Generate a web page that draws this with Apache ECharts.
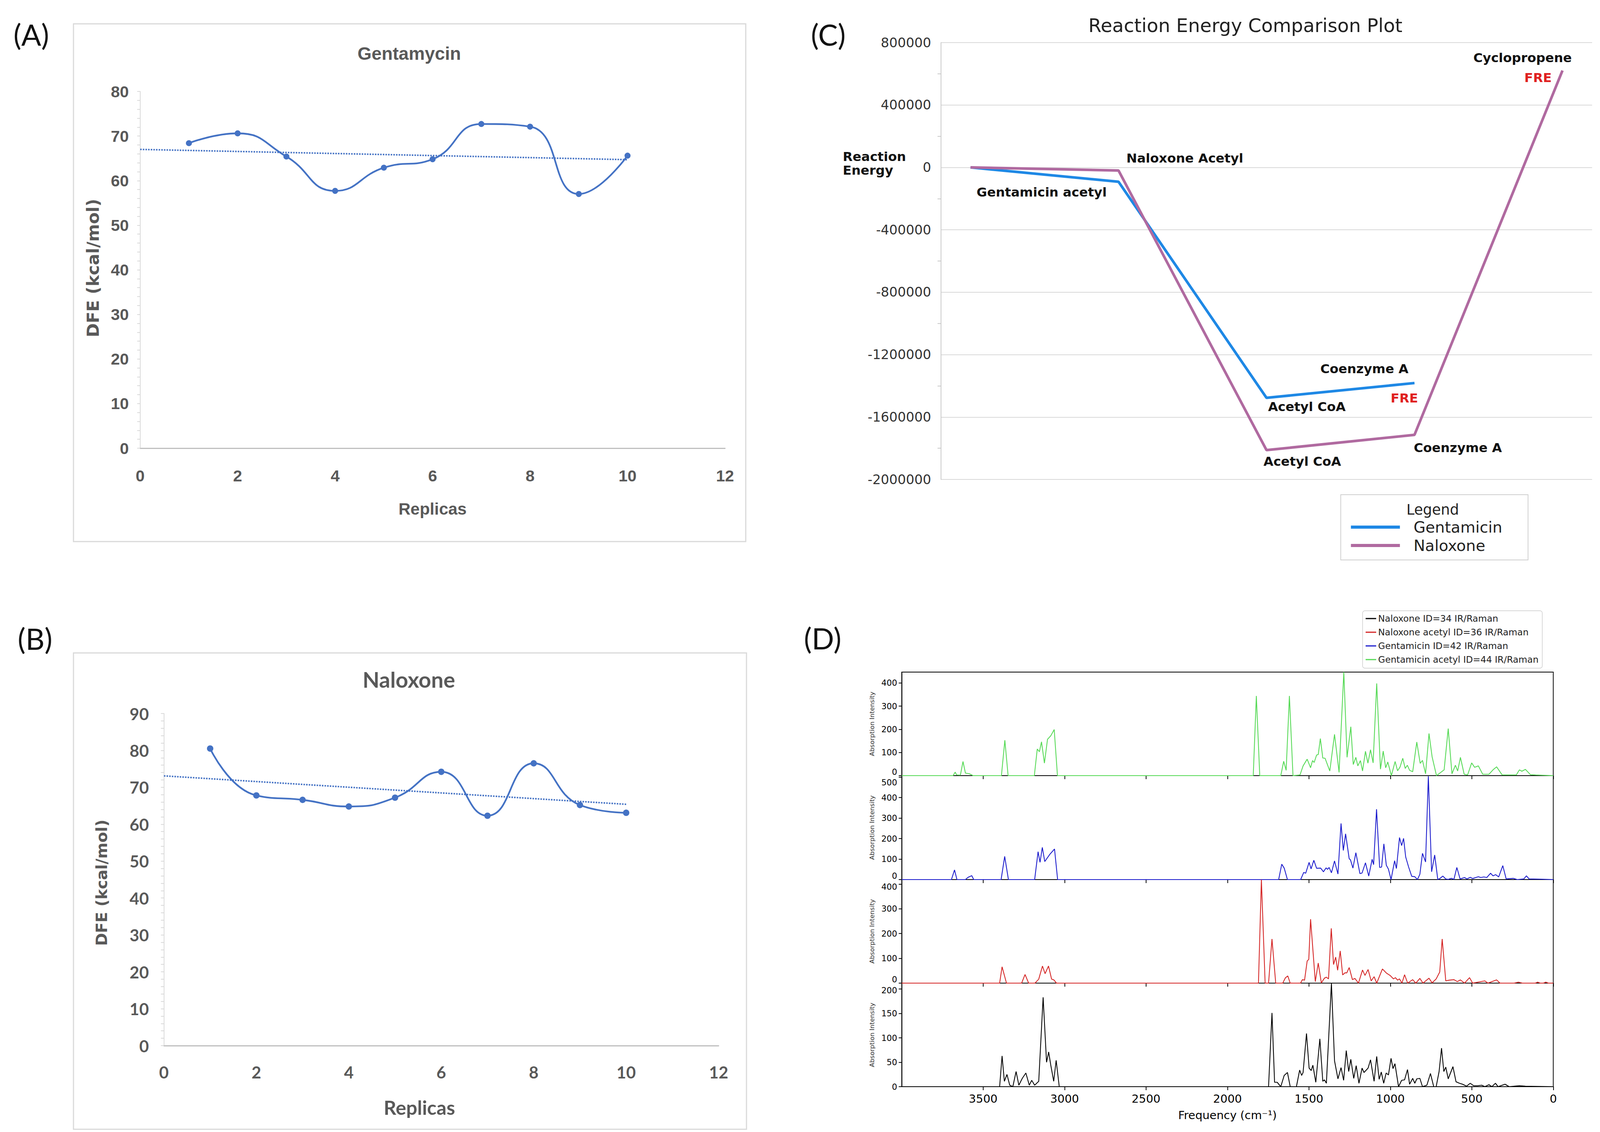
<!DOCTYPE html>
<html><head><meta charset="utf-8">
<script src="https://cdn.jsdelivr.net/npm/echarts@6.0.0/dist/echarts.min.js"></script>
<style>html,body{margin:0;padding:0;background:#fff;overflow:hidden;width:100%;height:100%;}#c{width:100%;height:100%;}</style>
</head><body><div id="c"></div>
<script>
// ---------------- DATA ----------------
const replicas = [1, 2, 3, 4, 5, 6, 7, 8, 9, 10];
const gentamycinDFE = [68.4, 70.6, 65.4, 57.7, 62.9, 64.8, 72.7, 72.1, 57.0, 65.6];
const gentamycinTrend = [[0, 67.0], [10, 64.7]];
const naloxoneDFE = [80.5, 67.8, 66.6, 64.8, 67.2, 74.2, 62.3, 76.5, 65.2, 63.1];
const naloxoneTrend = [[0, 73.1], [10, 65.4]];

const reactionSteps = [0, 1, 2, 3, 4];
const gentamicinEnergy = [0, -92000, -1477000, -1382000];
const naloxoneEnergy = [0, -20000, -1812000, -1714000, 621000];

const specGentamicinAcetyl = [[4000,0],[3685,0],[3672,15],[3663,3],[3640,2],[3624,61],[3609,11],[3585,8],[3562,0],[3388,0],[3367,153],[3347,0],[3186,0],[3168,115],[3155,103],[3142,146],[3124,54],[3105,157],[3085,172],[3064,199],[3044,0],[1842,0],[1823,344],[1802,0],[1673,0],[1655,62],[1640,23],[1620,344],[1598,0],[1555,3],[1536,42],[1511,71],[1490,34],[1478,65],[1468,57],[1453,89],[1443,91],[1430,160],[1415,76],[1401,75],[1372,20],[1343,178],[1315,14],[1286,447],[1266,79],[1243,211],[1228,48],[1212,79],[1200,42],[1184,65],[1171,20],[1153,105],[1138,54],[1122,112],[1106,55],[1084,398],[1061,28],[1044,106],[1029,34],[1016,59],[994,0],[971,61],[956,21],[941,37],[924,75],[909,31],[896,45],[882,23],[863,17],[838,145],[817,53],[803,66],[784,8],[763,182],[744,82],[717,0],[670,25],[645,203],[622,8],[601,45],[587,20],[570,79],[547,6],[526,3],[501,55],[483,36],[460,42],[433,6],[395,6],[370,25],[348,38],[314,3],[227,3],[208,25],[193,19],[171,27],[140,4],[108,3],[0,0]];
const specGentamicin = [[4000,0],[3695,0],[3676,47],[3661,0],[3609,0],[3593,11],[3570,19],[3558,0],[3390,0],[3368,113],[3345,0],[3184,0],[3163,136],[3151,84],[3137,157],[3122,88],[3090,124],[3062,149],[3043,0],[1686,0],[1667,75],[1652,56],[1632,0],[1551,0],[1532,35],[1520,31],[1499,84],[1487,52],[1470,94],[1453,55],[1428,56],[1411,38],[1395,57],[1386,50],[1376,59],[1362,33],[1343,91],[1322,27],[1303,274],[1289,142],[1275,223],[1253,102],[1245,96],[1230,56],[1212,131],[1187,29],[1174,32],[1153,82],[1133,17],[1112,99],[1103,73],[1085,343],[1066,59],[1054,61],[1040,174],[1025,70],[1012,51],[996,0],[974,92],[963,54],[944,205],[931,166],[919,201],[906,110],[888,61],[869,16],[850,14],[834,0],[819,26],[803,128],[784,86],[767,504],[747,38],[728,120],[709,0],[695,6],[678,17],[660,3],[645,1],[626,6],[610,1],[592,59],[572,3],[545,10],[530,3],[510,11],[495,5],[476,10],[460,14],[445,10],[426,13],[408,10],[385,31],[370,18],[354,24],[335,13],[310,68],[289,3],[246,6],[221,0],[181,3],[165,18],[148,3],[71,2],[0,0]];
const specNaloxoneAcetyl = [[4000,0],[3399,0],[3384,66],[3357,0],[3264,0],[3243,35],[3221,0],[3182,0],[3159,16],[3136,69],[3120,38],[3099,69],[3080,16],[3066,13],[3050,0],[1810,0],[1792,418],[1769,0],[1748,0],[1727,178],[1704,0],[1661,0],[1645,21],[1630,29],[1615,0],[1552,0],[1540,14],[1527,12],[1511,89],[1501,96],[1490,258],[1461,6],[1443,81],[1424,1],[1405,20],[1393,24],[1380,17],[1363,221],[1349,75],[1336,105],[1324,52],[1308,130],[1293,33],[1278,42],[1268,41],[1253,63],[1233,14],[1218,19],[1196,0],[1171,53],[1156,31],[1137,55],[1118,9],[1100,26],[1084,0],[1049,57],[1025,41],[1000,30],[981,17],[969,22],[956,12],[944,17],[929,0],[913,34],[894,0],[863,14],[844,0],[819,19],[800,0],[763,20],[744,1],[719,17],[697,45],[682,178],[660,9],[638,12],[610,14],[589,6],[570,13],[545,0],[514,22],[495,0],[420,9],[401,0],[348,13],[327,0],[240,0],[214,4],[190,0],[110,0],[96,4],[80,0],[60,0],[46,4],[30,0],[0,0]];
const specNaloxone = [[4000,0],[3399,0],[3384,63],[3370,11],[3354,25],[3337,3],[3318,0],[3298,31],[3281,3],[3260,17],[3238,28],[3217,3],[3202,13],[3184,3],[3159,11],[3132,183],[3111,50],[3098,71],[3085,44],[3067,11],[3052,54],[3033,0],[1748,0],[1727,151],[1711,9],[1695,9],[1673,0],[1652,23],[1632,29],[1615,0],[1577,0],[1557,34],[1545,23],[1536,29],[1515,109],[1499,38],[1486,33],[1476,44],[1458,9],[1433,98],[1415,11],[1405,14],[1393,7],[1362,212],[1343,53],[1322,16],[1303,39],[1287,13],[1271,74],[1256,31],[1243,56],[1225,17],[1210,43],[1193,7],[1174,38],[1162,29],[1137,38],[1122,55],[1100,11],[1084,62],[1069,15],[1056,30],[1041,7],[1026,28],[1012,24],[996,58],[984,37],[972,47],[950,0],[931,13],[913,14],[895,35],[882,5],[863,17],[850,7],[838,16],[819,17],[803,0],[776,3],[754,27],[734,0],[719,0],[701,31],[686,79],[672,31],[660,40],[645,16],[616,41],[597,10],[576,7],[557,5],[532,1],[510,7],[489,2],[464,2],[439,3],[420,0],[395,4],[377,0],[355,7],[339,0],[296,5],[271,0],[208,2],[171,1],[0,0]];

const spectraNames = ['Gentamicin acetyl ID=44 IR/Raman', 'Gentamicin ID=42 IR/Raman', 'Naloxone acetyl ID=36 IR/Raman', 'Naloxone ID=34 IR/Raman'];
const spectraData = [specGentamicinAcetyl, specGentamicin, specNaloxoneAcetyl, specNaloxone];
const spectraYMax = [447, 507, 418, 212];
const spectraYStep = [100, 100, 100, 50];
const spectraTopTick = [400, 500, 400, 200];

// ---------------- LAYOUT SCALE (design size 4246 x 2897) ----------------
const el = document.getElementById('c');
const W = el.clientWidth || window.innerWidth, H = el.clientHeight || window.innerHeight;
const SX = W / 4246, SY = H / 2897, SF = Math.min(SX, SY);
const px = v => v * SX, py = v => v * SY, fs = v => v * SF;

// ---------------- STYLE ----------------
const FA = "'Liberation Sans',Arial,sans-serif";
const FB = "Lato,'Liberation Sans',sans-serif";
const FDV = "'DejaVu Sans',sans-serif";
const GRAY = '#595959';
const XL_BLUE = '#4472C4';
const specColors = ['#55d955', '#1a1acc', '#d42424', '#000000'];
const cGent = '#1e88e5', cNal = '#b06aa0';
const plain = v => String(v);

const chart = echarts.init(el, null, {renderer: 'svg'});

function dfeAxes(grid, ymax, fontFam, size, yMargin, xMargin) {
  return {
    x: {type: 'value', gridIndex: grid, min: 0, max: 12, interval: 2,
        axisLine: {show: true, onZero: true, lineStyle: {color: '#bfbfbf', width: fs(3)}},
        axisTick: {show: false}, splitLine: {show: false},
        axisLabel: {fontFamily: fontFam, fontSize: fs(size), fontWeight: 'bold', color: GRAY, margin: py(xMargin)}},
    y: {type: 'value', gridIndex: grid, min: 0, max: ymax, interval: 10,
        axisLine: {show: true, onZero: false, lineStyle: {color: '#d9d9d9', width: fs(2)}},
        axisTick: {show: true, length: px(8), lineStyle: {color: '#d9d9d9', width: fs(2)}},
        minorTick: {show: true, splitNumber: 5, length: px(8), lineStyle: {color: '#d9d9d9', width: fs(2)}},
        splitLine: {show: false},
        axisLabel: {fontFamily: fontFam, fontSize: fs(size), fontWeight: 'bold', color: GRAY, margin: px(yMargin)}}
  };
}
const aAx = dfeAxes(0, 80, FA, 43, 30, 50);
const bAx = dfeAxes(1, 90, FB, 44, 40, 46);

const grids = [
  [372, 234, 1552, 913],
  [435, 1826, 1472, 850],
  [2497, 109, 1728, 1118],
  [2393, 1720, 1729, 265],
  [2393, 1985, 1729, 266],
  [2393, 2251, 1729, 265],
  [2393, 2516, 1729, 265]
].map((g, i) => Object.assign({outerBoundsMode: 'none', containLabel: false,
    left: px(g[0]), top: py(g[1]), width: px(g[2]), height: py(g[3])},
  i >= 3 ? {show: true, borderColor: '#000', borderWidth: fs(2), backgroundColor: 'transparent'} : {}));

const xAxes = [aAx.x, bAx.x,
  {type: 'value', gridIndex: 2, min: -0.2, max: 4.2, show: false}];
const yAxes = [aAx.y, bAx.y,
  {type: 'value', gridIndex: 2, min: -2000000, max: 800000, interval: 400000,
   axisLine: {show: true, onZero: false, lineStyle: {color: '#c8c8c8', width: fs(2)}},
   axisTick: {show: false},
   minorTick: {show: true, splitNumber: 2, length: px(9), lineStyle: {color: '#c8c8c8', width: fs(2)}},
   splitLine: {show: true, lineStyle: {color: '#d9d9d9', width: fs(2)}},
   axisLabel: {fontFamily: FDV, fontSize: fs(35), color: '#333', margin: px(26), formatter: plain}}];

// label nudges so that stacked-panel labels at the shared borders do not collide
const downShift = [0, 14, 7, 3];
for (let k = 0; k < 4; k++) {
  const gi = 3 + k, last = k === 3;
  xAxes.push({type: 'value', gridIndex: gi, inverse: true, min: 0, max: 4000, interval: 500,
    axisLine: {show: true, onZero: false, lineStyle: {color: '#000', width: fs(2)}},
    axisTick: {show: true, inside: false, length: py(9), lineStyle: {color: '#000', width: fs(2)}},
    splitLine: {show: false},
    axisLabel: {show: last, showMaxLabel: false, fontFamily: FDV, fontSize: fs(30), color: '#000', margin: py(16), formatter: plain},
    name: last ? 'Frequency (cm\u207B\u00B9)' : '', nameLocation: 'middle', nameGap: py(58),
    nameTextStyle: {fontFamily: FDV, fontSize: fs(30), color: '#000'}});
  yAxes.push({type: 'value', gridIndex: gi, min: 0, max: spectraYMax[k], interval: spectraYStep[k],
    axisLine: {show: true, onZero: false, lineStyle: {color: '#000', width: fs(2)}},
    axisTick: {show: true, length: px(8), lineStyle: {color: '#000', width: fs(2)}},
    splitLine: {show: false},
    axisLabel: {showMaxLabel: false, fontFamily: FDV, fontSize: fs(22), color: '#000', margin: px(12),
      formatter: (function (kk) {
        return function (v) {
          if (v === 0 && kk < 3) return '{dn|0}';
          if (v === spectraTopTick[kk] && kk > 0) return '{up|' + v + '}';
          return String(v);
        };
      })(k),
      rich: {
        dn: {fontFamily: FDV, fontSize: fs(22), color: '#000', padding: [0, 0, py(20), 0]},
        up: {fontFamily: FDV, fontSize: fs(22), color: '#000', padding: [py(2 * downShift[k]), 0, 0, 0]}
      }},
    name: 'Absorption Intensity', nameLocation: 'middle', nameGap: px(70),
    nameTextStyle: {fontFamily: FDV, fontSize: fs(17), color: '#333'}});
}

const gentPts = gentamicinEnergy.map((v, i) => [reactionSteps[i], v]);
const nalPts = naloxoneEnergy.map((v, i) => [reactionSteps[i], v]);

const series = [
  {type: 'line', name: 'Gentamycin DFE', xAxisIndex: 0, yAxisIndex: 0,
   data: replicas.map((r, i) => [r, gentamycinDFE[i]]), smooth: 0.5,
   symbol: 'circle', symbolSize: fs(16), itemStyle: {color: XL_BLUE}, lineStyle: {color: XL_BLUE, width: fs(4.5)}},
  {type: 'line', name: 'Gentamycin trend', xAxisIndex: 0, yAxisIndex: 0, data: gentamycinTrend,
   symbol: 'none', lineStyle: {color: XL_BLUE, width: fs(4), type: [fs(4), fs(3)]}},
  {type: 'line', name: 'Naloxone DFE', xAxisIndex: 1, yAxisIndex: 1,
   data: replicas.map((r, i) => [r, naloxoneDFE[i]]), smooth: 0.5,
   symbol: 'circle', symbolSize: fs(17), itemStyle: {color: XL_BLUE}, lineStyle: {color: XL_BLUE, width: fs(4.5)}},
  {type: 'line', name: 'Naloxone trend', xAxisIndex: 1, yAxisIndex: 1, data: naloxoneTrend,
   symbol: 'none', lineStyle: {color: XL_BLUE, width: fs(4), type: [fs(4), fs(3)]}},
  {type: 'line', name: 'Gentamicin', xAxisIndex: 2, yAxisIndex: 2, data: gentPts,
   symbol: 'none', itemStyle: {color: cGent}, lineStyle: {color: cGent, width: fs(7)}},
  {type: 'line', name: 'Naloxone', xAxisIndex: 2, yAxisIndex: 2, data: nalPts,
   symbol: 'none', itemStyle: {color: cNal}, lineStyle: {color: cNal, width: fs(7)}}
];
for (let k = 0; k < 4; k++) {
  series.push({type: 'line', name: spectraNames[k], xAxisIndex: 3 + k, yAxisIndex: 3 + k,
    data: spectraData[k], symbol: 'none', clip: true,
    itemStyle: {color: specColors[k]}, lineStyle: {color: specColors[k], width: fs(2.2)}});
}

const legends = [
  {data: ['Gentamicin', 'Naloxone'], orient: 'vertical', left: px(3585), top: py(1328), itemGap: py(5), padding: 0,
   icon: 'rect', itemWidth: px(130), itemHeight: py(8),
   textStyle: {fontFamily: FDV, fontSize: fs(41), color: '#222', lineHeight: py(42), padding: [0, 0, 0, px(31)]}},
  {data: ['Naloxone ID=34 IR/Raman', 'Naloxone acetyl ID=36 IR/Raman', 'Gentamicin ID=42 IR/Raman', 'Gentamicin acetyl ID=44 IR/Raman'],
   orient: 'vertical', left: px(3616), top: py(1563), itemGap: py(7), padding: [py(6), px(10), py(8), px(8)],
   icon: 'rect', itemWidth: px(28), itemHeight: py(3),
   backgroundColor: '#fff', borderColor: '#cccccc', borderWidth: fs(1.5), borderRadius: fs(6),
   textStyle: {fontFamily: FDV, fontSize: fs(24), color: '#222', lineHeight: py(28)}}
];

chart.setOption({
  animation: false,
  backgroundColor: '#ffffff',
  grid: grids, xAxis: xAxes, yAxis: yAxes, series: series, legend: legends
});

// ---------------- TEXT / DECORATION ----------------
function txt(id, x, y, text, o) {
  return {type: 'text', id: id, x: px(x), y: py(y), rotation: o.rot || 0, z: 50,
    style: {text: text, fill: o.color || '#000', fontFamily: o.ff || FDV, fontSize: fs(o.fs),
      fontWeight: o.fw || 'normal', lineHeight: o.lh ? fs(o.lh) : undefined, align: o.align || 'center', verticalAlign: 'middle',
      textAlign: o.align || 'center', textVerticalAlign: 'middle'}};
}
function box(id, x, y, w, h, color, lw) {
  return {type: 'rect', id: id, z: 1, shape: {x: px(x), y: py(y), width: px(w), height: py(h)},
    style: {fill: 'none', stroke: color, lineWidth: fs(lw)}};
}
const graphics = [
  box('boxA', 195, 61, 1784, 1325, '#d9d9d9', 3),
  box('boxB', 195, 1671, 1786, 1219, '#d9d9d9', 3),
  box('boxCL', 3558, 1266, 497, 167, '#cfcfcf', 2),
  txt('lA', 83, 88, '(A)', {ff: FB, fs: 78, color: '#111'}),
  txt('lB', 93, 1634, '(B)', {ff: FB, fs: 78, color: '#111'}),
  txt('lC', 2198, 88, '(C)', {ff: FB, fs: 78, color: '#111'}),
  txt('lD', 2183, 1633, '(D)', {ff: FB, fs: 78, color: '#111'}),
  txt('tA', 1086, 137, 'Gentamycin', {ff: FA, fs: 48, fw: 'bold', color: GRAY}),
  txt('xA', 1148, 1302, 'Replicas', {ff: FA, fs: 44, fw: 'bold', color: GRAY}),
  txt('yA', 247, 686, 'DFE (kcal/mol)', {ff: FDV, fs: 45, fw: 'bold', color: GRAY, rot: Math.PI / 2}),
  txt('tB', 1085, 1738, 'Naloxone', {ff: FB, fs: 58, fw: 'bold', color: GRAY}),
  txt('xB', 1113, 2833, 'Replicas', {ff: FB, fs: 52, fw: 'bold', color: GRAY}),
  txt('yB', 270, 2259, 'DFE (kcal/mol)', {ff: FDV, fs: 41, fw: 'bold', color: GRAY, rot: Math.PI / 2}),
  txt('tC', 3305, 65, 'Reaction Energy Comparison Plot', {fs: 50, color: '#222'}),
  txt('legC', 3802, 1304, 'Legend', {fs: 38, color: '#222'})
];

const annotations = [
  {text: 'Reaction\nEnergy', on: 'nal', i: 0, dx: -339, dy: -10, align: 'left'},
  {text: 'Naloxone Acetyl', on: 'nal', i: 1, dx: 176, dy: -31},
  {text: 'Gentamicin acetyl', on: 'gent', i: 1, dx: -204, dy: 27},
  {text: 'Coenzyme A', on: 'gent', i: 3, dx: -133, dy: -36},
  {text: 'FRE', on: 'gent', i: 3, dx: -27, dy: 39, red: true},
  {text: 'Acetyl CoA', on: 'gent', i: 2, dx: 107, dy: 23},
  {text: 'Acetyl CoA', on: 'nal', i: 2, dx: 95, dy: 29},
  {text: 'Coenzyme A', on: 'nal', i: 3, dx: 115, dy: 33},
  {text: 'Cyclopropene', on: 'nal', i: 4, dx: -106, dy: -32},
  {text: 'FRE', on: 'nal', i: 4, dx: -65, dy: 19, red: true}
];
annotations.forEach((a, k) => {
  const p = chart.convertToPixel({gridIndex: 2}, a.on === 'gent' ? gentPts[a.i] : nalPts[a.i]);
  const o = {fs: 34, fw: 'bold', color: a.red ? '#e02020' : '#111', align: a.align || 'center', lh: 37};
  const g = txt('an' + k, 0, 0, a.text, o);
  g.x = p[0] + px(a.dx); g.y = p[1] + py(a.dy);
  graphics.push(g);
});

chart.setOption({graphic: graphics});
</script>
</body></html>
